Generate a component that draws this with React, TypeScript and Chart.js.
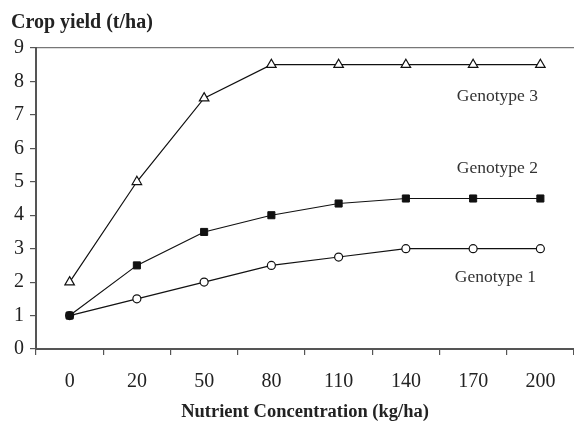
import React, { useEffect, useRef } from "react";
import { Chart, registerables } from "chart.js";

Chart.register(...registerables);

const categories = ["0", "20", "50", "80", "110", "140", "170", "200"];
const genotype3 = [2, 5, 7.5, 8.5, 8.5, 8.5, 8.5, 8.5];
const genotype2 = [1, 2.5, 3.5, 4, 4.35, 4.5, 4.5, 4.5];
const genotype1 = [1, 1.5, 2, 2.5, 2.75, 3, 3, 3];
const yTicks = [0, 1, 2, 3, 4, 5, 6, 7, 8, 9];
const seriesLabels = [
  { text: "Genotype 3", x: 6.36, y: 7.55 },
  { text: "Genotype 2", x: 6.36, y: 5.4 },
  { text: "Genotype 1", x: 6.33, y: 2.13 },
];
const yTitle = "Crop yield (t/ha)";
const xTitle = "Nutrient Concentration (kg/ha)";

const SERIF = "'Liberation Serif', 'Times New Roman', serif";

const textPlugin = {
  id: "textPlugin",
  afterDraw(chart: any) {
    const ctx = chart.ctx;
    const xs = chart.scales.x;
    const ys = chart.scales.y;
    ctx.save();
    ctx.fillStyle = "#222";
    ctx.font = `bold 20px ${SERIF}`;
    ctx.textAlign = "left";
    ctx.textBaseline = "middle";
    ctx.fillText(yTitle, 11, 23);
    ctx.font = `bold 18.5px ${SERIF}`;
    ctx.textAlign = "center";
    ctx.fillText(xTitle, 305, 412);
    ctx.font = `17.5px ${SERIF}`;
    ctx.fillStyle = "#333";
    for (const l of seriesLabels) {
      ctx.fillText(l.text, xs.getPixelForValue(l.x), ys.getPixelForValue(l.y));
    }
    ctx.restore();
  },
};

export default function App() {
  const ref = useRef<HTMLCanvasElement>(null);
  useEffect(() => {
    if (!ref.current) return;
    const chart = new Chart(ref.current, {
      type: "line",
      data: {
        labels: categories,
        datasets: [
          {
            label: "Genotype 3",
            data: genotype3,
            borderColor: "#111",
            borderWidth: 1.2,
            pointStyle: "triangle",
            pointRadius: 5.5,
            pointBackgroundColor: "#fff",
            pointBorderColor: "#111",
            pointBorderWidth: 1.2,
          },
          {
            label: "Genotype 2",
            data: genotype2,
            borderColor: "#111",
            borderWidth: 1.2,
            pointStyle: "rect",
            pointRadius: 5,
            pointBackgroundColor: "#111",
            pointBorderColor: "#111",
            pointBorderWidth: 1,
          },
          {
            label: "Genotype 1",
            data: genotype1,
            borderColor: "#111",
            borderWidth: 1.2,
            pointStyle: "circle",
            pointRadius: 4,
            pointBackgroundColor: "#fff",
            pointBorderColor: "#111",
            pointBorderWidth: 1.2,
          },
        ],
      },
      options: {
        animation: false,
        responsive: false,
        layout: { autoPadding: false, padding: { top: 48, left: 0, right: 0, bottom: 0 } },
        plugins: { legend: { display: false }, tooltip: { enabled: false }, title: { display: false } },
        scales: {
          x: {
            type: "category",
            offset: true,
            afterFit: (s: any) => {
              s.height = 75;
              s.paddingLeft = 0;
              s.paddingRight = 0;
            },
            grid: {
              offset: true,
              drawOnChartArea: false,
              tickLength: 6,
              tickColor: "#555",
              lineWidth: 1.2,
            },
            border: { color: "#555", width: 2 },
            ticks: {
              color: "#222",
              font: { family: SERIF, size: 20 },
              padding: 15,
              maxRotation: 0,
            },
          },
          y: {
            min: 0,
            max: 9,
            afterFit: (s: any) => {
              s.width = 36;
              s.paddingTop = 0;
              s.paddingBottom = 0;
            },
            afterBuildTicks: (s: any) => {
              s.ticks = yTicks.map((v) => ({ value: v }));
            },
            grid: {
              color: (c: any) => (c.tick && c.tick.value === 9 ? "#777" : "rgba(0,0,0,0)"),
              tickColor: "#555",
              tickLength: 6,
              lineWidth: 1.2,
            },
            border: { color: "#555", width: 2 },
            ticks: {
              color: "#222",
              font: { family: SERIF, size: 20 },
              padding: 6,
            },
          },
        },
      },
      plugins: [textPlugin],
    });
    return () => chart.destroy();
  }, []);
  return (
    <div style={{ position: "fixed", left: 0, top: 0, width: 574, height: 424, background: "#fff" }}>
      <canvas ref={ref} width={574} height={424} style={{ width: 574, height: 424 }} />
    </div>
  );
}
